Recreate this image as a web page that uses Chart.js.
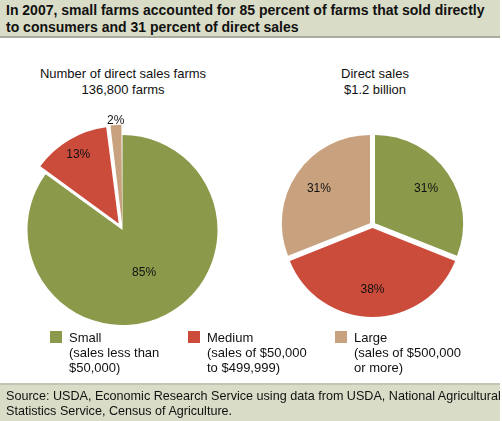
<!DOCTYPE html>
<html>
<head>
<meta charset="utf-8">
<script src="https://cdn.jsdelivr.net/npm/chart.js@4/dist/chart.umd.min.js"></script>
<style>
  body { margin: 0; width: 502px; height: 421px; background: #fff; font-family: "Liberation Sans", Arial, sans-serif; position: relative; overflow: hidden; }
  .head { position: absolute; left: 0; top: 0; width: 500px; height: 38px; background: #d9dcc6; border-bottom: 2px solid #a9ab9c; font-weight: bold; font-size: 14px; line-height: 17px; padding: 2px 0 0 6px; box-sizing: border-box; color: #111; white-space: nowrap; }
  .sub { position: absolute; text-align: center; font-size: 13px; line-height: 16px; color: #111; width: 240px; }
  .wrap { position: absolute; }
  .leg { position: absolute; top: 330px; font-size: 13px; line-height: 15px; color: #111; }
  .leg .box { position: absolute; left: -19px; top: 1px; width: 12px; height: 12px; }
  .foot { position: absolute; left: 0; top: 383px; width: 500px; height: 38px; background: #d9dcc6; border-top: 2px solid #c2c4b4; font-size: 12.6px; line-height: 15px; padding: 4px 0 0 6px; box-sizing: border-box; color: #111; white-space: nowrap; }
</style>
</head>
<body>
<div class="head">In 2007, small farms accounted for 85 percent of farms that sold directly<br>to consumers and 31 percent of direct sales</div>
<div class="sub" style="left:3px;top:66px">Number of direct sales farms<br>136,800 farms</div>
<div class="sub" style="left:255px;top:66px">Direct sales<br>$1.2 billion</div>
<div class="wrap" style="left:0;top:115px;width:245px;height:230px"><canvas id="farmsChart"></canvas></div>
<div class="wrap" style="left:250px;top:110px;width:245px;height:230px"><canvas id="salesChart"></canvas></div>
<div class="leg" style="left:69px"><span class="box" style="background:#8a9a4a"></span>Small<br>(sales less than<br>$50,000)</div>
<div class="leg" style="left:207px"><span class="box" style="background:#cc4c3c"></span>Medium<br>(sales of $50,000<br>to $499,999)</div>
<div class="leg" style="left:354px"><span class="box" style="background:#c8a27e"></span>Large<br>(sales of $500,000<br>or more)</div>
<div class="foot">Source: USDA, Economic Research Service using data from USDA, National Agricultural<br>Statistics Service, Census of Agriculture.</div>
<script>
const categories = ['Small', 'Medium', 'Large'];
const farmsShare = [85, 13, 2];
const salesShare = [31, 38, 31];
const colors = ['#8a9a4a', '#cc4c3c', '#c8a27e'];

const pctLabels = {
  id: 'pctLabels',
  afterDatasetsDraw(chart) {
    const ctx = chart.ctx;
    const meta = chart.getDatasetMeta(0);
    ctx.save();
    ctx.font = '12px "Liberation Sans", Arial, sans-serif';
    ctx.fillStyle = '#111';
    ctx.textAlign = 'center';
    ctx.textBaseline = 'middle';
    meta.data.forEach((arc, i) => {
      const mid = (arc.startAngle + arc.endAngle) / 2;
      const off = arc.options.offset || 0;
      const frac = chart.options.labelFrac[i];
      const r = arc.outerRadius * frac + off;
      ctx.fillText(chart.data.datasets[0].data[i] + '%', arc.x + Math.cos(mid) * r, arc.y + Math.sin(mid) * r);
    });
    ctx.restore();
  },
};

function createPie(chartId, values, radius, offsets, labelFrac) {
  new Chart(document.getElementById(chartId), {
    type: 'pie',
    data: {
      labels: categories,
      datasets: [{ data: values, backgroundColor: colors, borderWidth: 0, offset: offsets }],
    },
    options: {
      responsive: true,
      maintainAspectRatio: false,
      animation: false,
      radius: radius,
      labelFrac: labelFrac,
      plugins: { legend: { display: false }, tooltip: { enabled: false } },
    },
    plugins: [pctLabels],
  });
}

createPie('farmsChart', farmsShare, 95, [0, 30, 22], [0.5, 0.6, 0.92]);
createPie('salesChart', salesShare, 88, [12, 12, 12], [0.6, 0.6, 0.6]);
</script>
</body>
</html>
